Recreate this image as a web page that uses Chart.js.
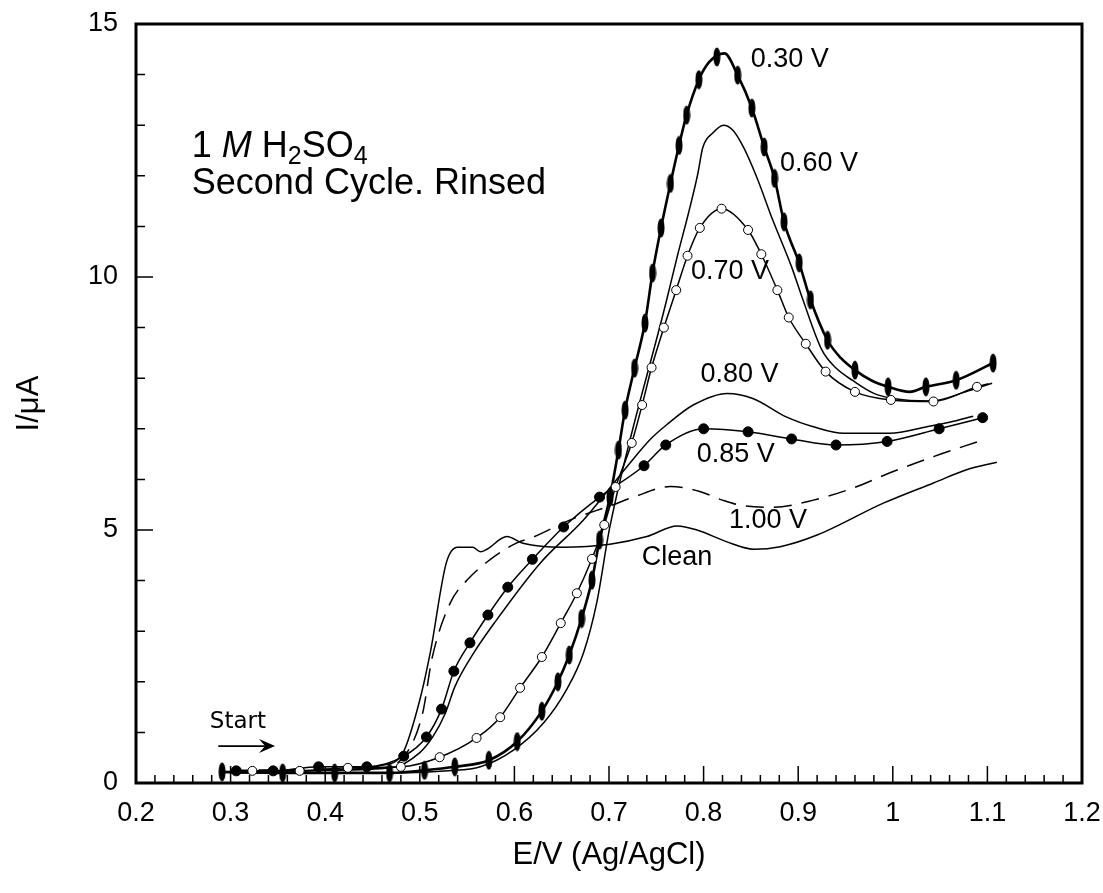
<!DOCTYPE html>
<html>
<head>
<meta charset="utf-8">
<script src="https://cdn.jsdelivr.net/npm/chart.js@4"></script>
<style>
  body { margin: 0; background: #fff; }
</style>
</head>
<body>
<canvas id="chart" width="1103" height="893"></canvas>
<script>
// E (V vs Ag/AgCl) and I (uA), one pair of arrays per curve
const e030 = [0.29, 0.35, 0.41, 0.47, 0.505, 0.537, 0.573, 0.603, 0.629, 0.646, 0.658, 0.671, 0.682, 0.690, 0.701, 0.710, 0.717, 0.727, 0.738, 0.746, 0.755, 0.765, 0.774, 0.782, 0.795, 0.806, 0.822, 0.836, 0.851, 0.864, 0.875, 0.885, 0.901, 0.913, 0.931, 0.945, 0.960, 0.978, 0.995, 1.018, 1.035, 1.067, 1.106];
const i030 = [0.22, 0.20, 0.20, 0.20, 0.25, 0.32, 0.45, 0.82, 1.42, 2.00, 2.53, 3.25, 4.01, 4.80, 5.65, 6.58, 7.37, 8.20, 9.09, 10.08, 10.97, 11.85, 12.60, 13.20, 13.90, 14.25, 14.42, 13.99, 13.34, 12.57, 11.95, 11.09, 10.28, 9.55, 8.75, 8.40, 8.16, 7.95, 7.83, 7.73, 7.83, 7.96, 8.30];
const e030Mark = [0.291, 0.355, 0.410, 0.468, 0.505, 0.537, 0.573, 0.603, 0.629, 0.646, 0.658, 0.671, 0.682, 0.690, 0.701, 0.710, 0.717, 0.727, 0.738, 0.746, 0.755, 0.765, 0.774, 0.782, 0.795, 0.814, 0.836, 0.851, 0.864, 0.875, 0.885, 0.901, 0.913, 0.931, 0.960, 0.995, 1.035, 1.067, 1.106];
const i030Mark = [0.22, 0.20, 0.20, 0.20, 0.25, 0.32, 0.45, 0.82, 1.42, 2.00, 2.53, 3.25, 4.01, 4.80, 5.65, 6.58, 7.37, 8.20, 9.09, 10.08, 10.97, 11.85, 12.60, 13.20, 13.90, 14.35, 13.99, 13.34, 12.57, 11.95, 11.09, 10.28, 9.55, 8.75, 8.16, 7.83, 7.83, 7.96, 8.30];

const e060 = [0.30, 0.40, 0.48, 0.53, 0.564, 0.599, 0.631, 0.655, 0.673, 0.687, 0.701, 0.761, 0.773, 0.784, 0.794, 0.799, 0.810, 0.821, 0.831, 0.842, 0.856, 0.873, 0.893, 0.905, 0.925, 0.940, 0.958, 0.980, 1.000, 1.040, 1.080, 1.105];
const i060 = [0.20, 0.20, 0.20, 0.24, 0.32, 0.65, 1.19, 1.84, 2.57, 3.56, 5.07, 9.55, 10.47, 11.26, 12.05, 12.55, 12.85, 13.00, 12.90, 12.57, 11.98, 11.13, 10.20, 9.55, 8.56, 8.20, 7.95, 7.70, 7.60, 7.55, 7.75, 7.90];

const e070 = [0.30, 0.323, 0.373, 0.424, 0.480, 0.521, 0.560, 0.585, 0.606, 0.629, 0.649, 0.666, 0.682, 0.695, 0.707, 0.724, 0.735, 0.745, 0.758, 0.771, 0.783, 0.796, 0.819, 0.847, 0.861, 0.878, 0.890, 0.908, 0.929, 0.960, 0.998, 1.043, 1.089, 1.101];
const i070 = [0.24, 0.24, 0.24, 0.30, 0.32, 0.51, 0.89, 1.30, 1.88, 2.49, 3.16, 3.75, 4.43, 5.10, 5.85, 6.72, 7.47, 8.21, 9.00, 9.74, 10.42, 10.97, 11.35, 10.93, 10.45, 9.74, 9.20, 8.68, 8.13, 7.73, 7.57, 7.54, 7.83, 7.89];
const e070Mark = [0.323, 0.373, 0.424, 0.480, 0.521, 0.560, 0.585, 0.606, 0.629, 0.649, 0.666, 0.682, 0.695, 0.707, 0.724, 0.735, 0.745, 0.758, 0.771, 0.783, 0.796, 0.819, 0.847, 0.861, 0.878, 0.890, 0.908, 0.929, 0.960, 0.998, 1.043, 1.089];
const i070Mark = [0.24, 0.24, 0.30, 0.32, 0.51, 0.89, 1.30, 1.88, 2.49, 3.16, 3.75, 4.43, 5.10, 5.85, 6.72, 7.47, 8.21, 9.00, 9.74, 10.42, 10.97, 11.35, 10.93, 10.45, 9.74, 9.20, 8.68, 8.13, 7.73, 7.57, 7.54, 7.83];

const e080 = [0.30, 0.40, 0.47, 0.50, 0.514, 0.527, 0.537, 0.557, 0.581, 0.627, 0.673, 0.722, 0.743, 0.761, 0.789, 0.825, 0.852, 0.888, 0.916, 0.948, 0.997, 1.036, 1.060, 1.085];
const i080 = [0.22, 0.25, 0.30, 0.60, 0.92, 1.38, 1.90, 2.57, 3.22, 4.34, 5.20, 6.32, 6.78, 7.08, 7.47, 7.70, 7.60, 7.23, 7.04, 6.91, 6.91, 7.04, 7.13, 7.25];

const e085 = [0.306, 0.345, 0.393, 0.444, 0.483, 0.507, 0.523, 0.536, 0.553, 0.572, 0.593, 0.619, 0.652, 0.690, 0.737, 0.760, 0.800, 0.847, 0.893, 0.940, 0.994, 1.049, 1.095];
const i085 = [0.24, 0.24, 0.32, 0.32, 0.53, 0.91, 1.46, 2.21, 2.77, 3.32, 3.87, 4.42, 5.06, 5.65, 6.27, 6.68, 7.00, 6.94, 6.80, 6.68, 6.75, 7.00, 7.22];

const e100 = [0.30, 0.40, 0.46, 0.486, 0.503, 0.513, 0.532, 0.550, 0.574, 0.602, 0.620, 0.659, 0.703, 0.726, 0.765, 0.796, 0.820, 0.839, 0.873, 0.916, 0.958, 0.997, 1.043, 1.092];
const i100 = [0.25, 0.27, 0.30, 0.59, 1.38, 2.47, 3.55, 4.01, 4.41, 4.74, 4.86, 5.20, 5.49, 5.65, 5.86, 5.76, 5.59, 5.49, 5.45, 5.59, 5.83, 6.13, 6.45, 6.76];

const eClean = [0.30, 0.40, 0.46, 0.482, 0.500, 0.511, 0.528, 0.540, 0.556, 0.564, 0.571, 0.592, 0.609, 0.651, 0.701, 0.740, 0.772, 0.793, 0.824, 0.853, 0.881, 0.920, 0.990, 1.043, 1.078, 1.110];
const iClean = [0.22, 0.25, 0.35, 0.59, 1.64, 2.57, 4.35, 4.66, 4.66, 4.57, 4.62, 4.87, 4.74, 4.66, 4.72, 4.87, 5.08, 5.00, 4.77, 4.62, 4.67, 4.90, 5.53, 5.93, 6.19, 6.34];

const xTicks = [0.2, 0.3, 0.4, 0.5, 0.6, 0.7, 0.8, 0.9, 1, 1.1, 1.2];
const yTicks = [0, 5, 10, 15];

const FONT = "'Liberation Sans', Arial, Helvetica, sans-serif";

function pts(xs, ys) {
  return xs.map((v, i) => ({ x: v, y: ys[i] }));
}

// tall black ellipse used as the marker of the 0.30 V curve
function ellipseMarker() {
  const c = document.createElement('canvas');
  c.width = 8;
  c.height = 20;
  const g = c.getContext('2d');
  g.fillStyle = '#000';
  g.beginPath();
  g.ellipse(4, 10, 3.5, 9.5, 0, 0, Math.PI * 2);
  g.fill();
  return c;
}

function curve(xs, ys, extra) {
  return Object.assign({
    data: pts(xs, ys),
    showLine: true,
    borderColor: '#000',
    borderWidth: 1.5,
    pointRadius: 0,
    cubicInterpolationMode: 'monotone'
  }, extra || {});
}

function marks(xs, ys, extra) {
  return Object.assign({
    data: pts(xs, ys),
    showLine: false,
    borderColor: '#000',
    backgroundColor: '#000',
    borderWidth: 1
  }, extra);
}

// curve labels, placed in data units
const curveLabels = [
  { text: '0.30 V', x: 0.891, y: 14.29 },
  { text: '0.60 V', x: 0.922, y: 12.25 },
  { text: '0.70 V', x: 0.828, y: 10.1 },
  { text: '0.80 V', x: 0.838, y: 8.08 },
  { text: '0.85 V', x: 0.834, y: 6.5 },
  { text: '1.00 V', x: 0.868, y: 5.18 },
  { text: 'Clean', x: 0.772, y: 4.45 }
];

const decorations = {
  id: 'decorations',
  afterDatasetsDraw(chart) {
    const { ctx, scales: { x, y } } = chart;
    ctx.save();
    ctx.fillStyle = '#000';
    ctx.strokeStyle = '#000';

    ctx.font = '27px ' + FONT;
    ctx.textAlign = 'center';
    ctx.textBaseline = 'middle';
    curveLabels.forEach(l => {
      ctx.fillText(l.text, x.getPixelForValue(l.x), y.getPixelForValue(l.y));
    });

    // 1 M H2SO4 / Second Cycle. Rinsed
    ctx.textAlign = 'left';
    ctx.textBaseline = 'alphabetic';
    let px = x.getPixelForValue(0.259);
    const base1 = y.getPixelForValue(12.37);
    const base2 = y.getPixelForValue(11.64);
    const parts = [
      ['1 ', '36px', 0], ['M', 'italic 36px', 0], [' H', '36px', 0], ['2', '25px', 7],
      ['SO', '36px', 0], ['4', '25px', 7]
    ];
    parts.forEach(([t, f, dy]) => {
      ctx.font = f + ' ' + FONT;
      ctx.fillText(t, px, base1 + dy);
      px += ctx.measureText(t).width;
    });
    ctx.font = '36px ' + FONT;
    ctx.fillText('Second Cycle. Rinsed', x.getPixelForValue(0.259), base2);

    // Start arrow
    ctx.font = "23px 'DejaVu Sans', Verdana, sans-serif";
    ctx.fillText('Start', x.getPixelForValue(0.278), y.getPixelForValue(1.09));
    const ay = y.getPixelForValue(0.73);
    const ax0 = x.getPixelForValue(0.287);
    const ax1 = x.getPixelForValue(0.347);
    ctx.lineWidth = 1.8;
    ctx.beginPath();
    ctx.moveTo(ax0, ay);
    ctx.lineTo(ax1 - 2, ay);
    ctx.stroke();
    ctx.beginPath();
    ctx.moveTo(ax1, ay);
    ctx.lineTo(ax1 - 16, ay - 7);
    ctx.lineTo(ax1 - 10, ay);
    ctx.lineTo(ax1 - 16, ay + 7);
    ctx.closePath();
    ctx.fill();
    ctx.restore();
  },
  afterDraw(chart) {
    const { ctx, chartArea: a, scales: { x, y } } = chart;
    ctx.save();
    ctx.strokeStyle = '#000';
    ctx.lineWidth = 1.5;
    ctx.beginPath();
    for (let i = 0; i <= 50; i++) {
      const px = x.getPixelForValue(0.2 + i * 0.02);
      const len = i % 5 === 0 ? 17 : 8;
      ctx.moveTo(px, a.bottom);
      ctx.lineTo(px, a.bottom - len);
    }
    for (let v = 0; v <= 15; v++) {
      const py = y.getPixelForValue(v);
      const len = v % 5 === 0 ? 17 : 9;
      ctx.moveTo(a.left, py);
      ctx.lineTo(a.left + len, py);
    }
    ctx.stroke();
    ctx.lineWidth = 3;
    ctx.strokeRect(a.left, a.top, a.right - a.left, a.bottom - a.top);
    ctx.restore();
  }
};

const ctx = document.getElementById('chart').getContext('2d');

new Chart(ctx, {
  type: 'scatter',
  data: {
    datasets: [
      marks(e030Mark, i030Mark, { pointStyle: ellipseMarker(), pointRadius: 9 }),
      marks(e070Mark, i070Mark, { pointStyle: 'circle', pointRadius: 4.5, backgroundColor: '#fff' }),
      marks(e085, i085, { pointStyle: 'circle', pointRadius: 5 }),
      curve(e030, i030, { borderWidth: 2.6 }),
      curve(e060, i060),
      curve(e070, i070),
      curve(e080, i080),
      curve(e085, i085),
      curve(e100, i100, { borderDash: [18, 10] }),
      curve(eClean, iClean)
    ]
  },
  options: {
    responsive: false,
    animation: false,
    devicePixelRatio: 1,
    layout: { padding: { left: 0, right: 21, top: 24, bottom: 0 } },
    plugins: {
      legend: { display: false },
      tooltip: { enabled: false }
    },
    scales: {
      x: {
        type: 'linear',
        min: 0.2,
        max: 1.2,
        afterFit: s => {
          s.height = 110;
          s.paddingLeft = 0;
          s.paddingRight = 0;
        },
        afterBuildTicks: s => { s.ticks = xTicks.map(v => ({ value: v })); },
        ticks: {
          color: '#000',
          padding: 14,
          maxRotation: 0,
          autoSkip: false,
          font: { family: FONT, size: 27 },
          callback: v => String(+v.toFixed(1))
        },
        grid: { display: false, drawTicks: false },
        border: { display: false },
        title: {
          display: true,
          text: 'E/V (Ag/AgCl)',
          color: '#000',
          font: { family: FONT, size: 31 },
          padding: { top: 0, bottom: 19 }
        }
      },
      y: {
        type: 'linear',
        min: 0,
        max: 15,
        afterFit: s => {
          s.width = 136;
          s.paddingTop = 0;
          s.paddingBottom = 0;
        },
        afterBuildTicks: s => { s.ticks = yTicks.map(v => ({ value: v })); },
        ticks: {
          color: '#000',
          padding: 18,
          font: { family: FONT, size: 27 }
        },
        grid: { display: false, drawTicks: false },
        border: { display: false },
        title: {
          display: true,
          text: 'I/μA',
          color: '#000',
          font: { family: FONT, size: 31 },
          padding: { top: 11, bottom: 0 }
        }
      }
    }
  },
  plugins: [decorations]
});
</script>
</body>
</html>
